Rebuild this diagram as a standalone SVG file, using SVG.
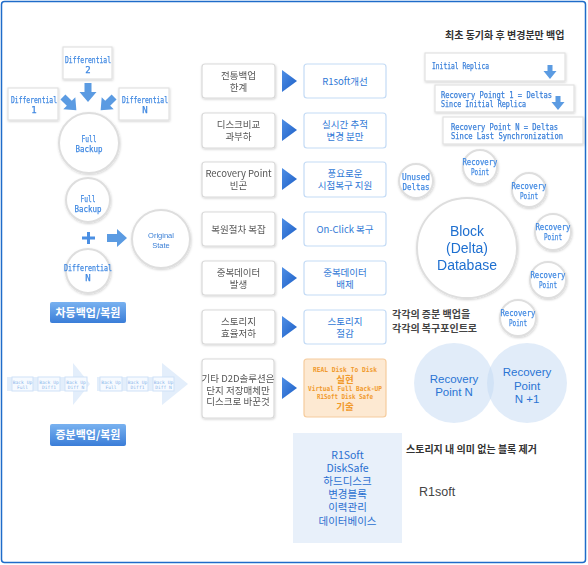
<svg xmlns="http://www.w3.org/2000/svg" width="588" height="565" viewBox="0 0 588 565">
<defs>
<style>
.px{font-family:"DejaVu Sans Mono",monospace;fill:#3f88e2;stroke:#3f88e2;stroke-width:0.25;font-size:9px}
.pxs{font-family:"DejaVu Sans Mono",monospace;fill:#3b80da;stroke:#3b80da;stroke-width:0.25;font-size:8.5px}
.kr{font-family:"Noto Sans CJK KR",sans-serif}
.lb{font-family:"Noto Sans CJK KR",sans-serif;font-size:9.5px;fill:#555;text-anchor:middle}
.rb{font-family:"Noto Sans CJK KR",sans-serif;font-size:9.5px;fill:#2f78d6;text-anchor:middle}
.box{fill:#fff;stroke:#d9d9d9;stroke-width:1.2}
.rbox{fill:#fff;stroke:#c4dbf5;stroke-width:1.2}
.wbox{fill:#fff;stroke:#e2e2e2;stroke-width:1.2}
.circ{fill:#fff;stroke:#dedede;stroke-width:2}
.tri{fill:url(#tg)}
.arr{fill:#5b9be2}
.btn{fill:url(#bg)}
.btxt{font-family:"Noto Sans CJK KR",sans-serif;font-size:11px;font-weight:bold;fill:#fff;text-anchor:middle}
.mid{text-anchor:middle}
.bu{font-family:"DejaVu Sans Mono",monospace;font-size:4.6px;fill:#8bb6ea;text-anchor:middle}
.sbox{fill:#f6faff;stroke:#cfe1f7;stroke-width:1}
.org{font-family:"DejaVu Sans Mono",monospace;font-weight:bold;font-size:7px;fill:#f19a2c;text-anchor:middle}
.orgk{font-family:"Noto Sans CJK KR",sans-serif;font-weight:bold;font-size:9.5px;fill:#f19a2c;text-anchor:middle}
.ven{font-family:"Liberation Sans",sans-serif;font-size:11.5px;fill:#2a74d4;text-anchor:middle}
.bot{font-family:"Noto Sans CJK KR",sans-serif;font-size:10.5px;fill:#2a6fd0;text-anchor:middle}
</style>
<linearGradient id="tg" x1="0" y1="0" x2="1" y2="1">
<stop offset="0" stop-color="#4f8fe6"/><stop offset="1" stop-color="#1d5fc6"/>
</linearGradient>
<linearGradient id="bg" x1="0" y1="0" x2="0" y2="1">
<stop offset="0" stop-color="#79b2f0"/><stop offset="1" stop-color="#3a7dd8"/>
</linearGradient>
<filter id="sh" x="-20%" y="-20%" width="140%" height="140%">
<feDropShadow dx="0.5" dy="1" stdDeviation="1" flood-color="#000" flood-opacity="0.18"/>
</filter>
<path id="darr" d="M-3.5,-10 h7 v9 h5 l-8.5,10 l-8.5,-10 h5 z"/>
<path id="sdarr" d="M-2.5,-8 h5 v6 h4 l-6.5,8 l-6.5,-8 h4 z"/>
</defs>

<rect x="1.5" y="1.5" width="584" height="561" rx="3" fill="#fff" stroke="#1f6cc9" stroke-width="1.5"/>

<!-- Left top cluster -->
<g id="diff2" filter="url(#sh)">
<rect class="wbox" x="63" y="47" width="49" height="32"/>
<text class="px mid" x="88" y="63" textLength="46" lengthAdjust="spacingAndGlyphs">Differential</text>
<text class="px mid" x="88" y="72.5">2</text>
</g>
<g id="diff1" filter="url(#sh)">
<rect class="wbox" x="8" y="88" width="50" height="32"/>
<text class="px mid" x="34" y="103" textLength="46" lengthAdjust="spacingAndGlyphs">Differential</text>
<text class="px mid" x="34" y="112.5">1</text>
</g>
<g id="diffN" filter="url(#sh)">
<rect class="wbox" x="119" y="88" width="50" height="32"/>
<text class="px mid" x="145" y="103" textLength="46" lengthAdjust="spacingAndGlyphs">Differential</text>
<text class="px mid" x="145" y="112.5">N</text>
</g>
<g id="fullbackup1" filter="url(#sh)">
<circle class="circ" cx="89" cy="143" r="30"/>
<text class="px mid" x="89" y="142" textLength="15" lengthAdjust="spacingAndGlyphs">Full</text>
<text class="px mid" x="89" y="152" textLength="27" lengthAdjust="spacingAndGlyphs">Backup</text>
</g>

<g id="fullbackup2" filter="url(#sh)">
<circle class="circ" cx="88" cy="200" r="22"/>
<text class="px mid" x="88" y="202" textLength="15" lengthAdjust="spacingAndGlyphs">Full</text>
<text class="px mid" x="88" y="212" textLength="27" lengthAdjust="spacingAndGlyphs">Backup</text>
</g>
<g id="plus">
<path d="M82,238 h13 M88.5,232 v12" stroke="#4b8fe3" stroke-width="3"/>
</g>
<g id="diffNcircle" filter="url(#sh)">
<circle class="circ" cx="88" cy="271" r="22"/>
<text class="px mid" x="88" y="271" textLength="48" lengthAdjust="spacingAndGlyphs">Differential</text>
<text class="px mid" x="88" y="280.5">N</text>
</g>
<g id="original" filter="url(#sh)">
<circle class="circ" cx="161" cy="239" r="29"/>
<text class="mid" x="161" y="237.5" font-family="Liberation Sans,sans-serif" font-size="7.5" fill="#3a7fd6">Original</text>
<text class="mid" x="161" y="248" font-family="Liberation Sans,sans-serif" font-size="7.5" fill="#3a7fd6">State</text>
</g>
<g id="btn1">
<rect class="btn" x="50" y="302" width="76" height="21" rx="2"/>
<text class="btxt" x="88" y="316.5">차등백업/복원</text>
</g>

<!-- incremental chain -->
<g id="chain">
<path d="M7,377 h66 v-14 l17,21 l-17,21 v-14 h-66 z" fill="#e3eefb"/>
<path d="M97,377 h65 v-14 l26,21 l-26,21 v-14 h-65 z" fill="#e3eefb"/>
<rect class="sbox" x="12" y="377" width="21" height="14"/>
<rect class="sbox" x="38" y="377" width="22" height="14"/>
<rect class="sbox" x="65" y="377" width="22" height="14"/>
<rect class="sbox" x="100" y="377" width="22" height="14"/>
<rect class="sbox" x="127" y="377" width="21" height="14"/>
<rect class="sbox" x="153" y="377" width="21" height="14"/>
<text class="bu" x="22.5" y="383.5">Back Up</text><text class="bu" x="22.5" y="388.5">Full</text>
<text class="bu" x="49" y="383.5">Back Up</text><text class="bu" x="49" y="388.5">Diff1</text>
<text class="bu" x="76" y="383.5">Back Up</text><text class="bu" x="76" y="388.5">Diff N</text>
<text class="bu" x="111" y="383.5">Back Up</text><text class="bu" x="111" y="388.5">Full</text>
<text class="bu" x="137.5" y="383.5">Back Up</text><text class="bu" x="137.5" y="388.5">Diff1</text>
<text class="bu" x="163.5" y="383.5">Back Up</text><text class="bu" x="163.5" y="388.5">Diff N</text>
</g>
<g id="btn2">
<rect class="btn" x="50" y="424" width="76" height="22" rx="2"/>
<text class="btxt" x="88" y="439">증분백업/복원</text>
</g>

<!-- middle column left -->
<g id="l1" filter="url(#sh)"><rect class="box" x="202" y="64" width="73" height="34" rx="3"/>
<text class="lb" x="238.5" y="79">전통백업</text><text class="lb" x="238.5" y="91">한계</text></g>
<g id="l2" filter="url(#sh)"><rect class="box" x="202" y="113" width="73" height="35" rx="3"/>
<text class="lb" x="238.5" y="128">디스크비교</text><text class="lb" x="238.5" y="140">과부하</text></g>
<g id="l3" filter="url(#sh)"><rect class="box" x="202" y="162" width="73" height="35" rx="3"/>
<text class="lb" x="238.5" y="177">Recovery Point</text><text class="lb" x="238.5" y="189">빈곤</text></g>
<g id="l4" filter="url(#sh)"><rect class="box" x="202" y="212" width="73" height="34" rx="3"/>
<text class="lb" x="238.5" y="232.5">복원절차 복잡</text></g>
<g id="l5" filter="url(#sh)"><rect class="box" x="202" y="261" width="73" height="34" rx="3"/>
<text class="lb" x="238.5" y="276">중복데이터</text><text class="lb" x="238.5" y="288">발생</text></g>
<g id="l6" filter="url(#sh)"><rect class="box" x="202" y="310" width="73" height="34" rx="3"/>
<text class="lb" x="238.5" y="325">스토리지</text><text class="lb" x="238.5" y="337">효율저하</text></g>
<g id="l7" filter="url(#sh)"><rect class="box" x="202" y="359" width="72" height="59" rx="3"/>
<text class="lb" x="238" y="382" fill="#444" font-size="10.5">기타 D2D솔루션은</text>
<text class="lb" x="238" y="393.5" fill="#444" font-size="10.5">단지 저장매체만</text>
<text class="lb" x="238" y="405" fill="#444" font-size="10.5">디스크로 바꾼것</text></g>

<!-- middle column right -->
<g id="r1"><rect class="rbox" x="304" y="64" width="82" height="34" rx="3"/>
<text class="rb" x="345" y="84.5">R1soft개선</text></g>
<g id="r2"><rect class="rbox" x="304" y="113" width="82" height="35" rx="3"/>
<text class="rb" x="345" y="128">실시간 추적</text><text class="rb" x="345" y="140">변경 분만</text></g>
<g id="r3"><rect class="rbox" x="304" y="162" width="82" height="35" rx="3"/>
<text class="rb" x="345" y="177">풍요로운</text><text class="rb" x="345" y="189">시점복구 지원</text></g>
<g id="r4"><rect class="rbox" x="304" y="212" width="82" height="34" rx="3"/>
<text class="rb" x="345" y="232.5">On-Click 복구</text></g>
<g id="r5"><rect class="rbox" x="304" y="261" width="82" height="34" rx="3"/>
<text class="rb" x="345" y="276">중복데이터</text><text class="rb" x="345" y="288">배제</text></g>
<g id="r6"><rect class="rbox" x="304" y="310" width="82" height="34" rx="3"/>
<text class="rb" x="345" y="325">스토리지</text><text class="rb" x="345" y="337">절감</text></g>
<g id="r7"><rect x="304" y="359" width="82" height="58" rx="3" fill="#fde9d2" stroke="#f6cc9d" stroke-width="1.2"/>
<text class="org" x="345" y="371.5" textLength="64" lengthAdjust="spacingAndGlyphs">REAL Disk To Disk</text>
<text class="orgk" x="345" y="382.5">실현</text>
<text class="org" x="345" y="390.5" textLength="74" lengthAdjust="spacingAndGlyphs">Virtual Full Back-UP</text>
<text class="org" x="345" y="398.5" textLength="56" lengthAdjust="spacingAndGlyphs">R1Soft Disk Safe</text>
<text class="orgk" x="345" y="409.5">기술</text></g>

<!-- right top -->
<text class="kr" x="445" y="39" font-size="10" font-weight="bold" fill="#333">최초 동기화 후 변경분만 백업</text>
<g id="rt1" filter="url(#sh)"><rect class="wbox" x="425" y="53" width="140" height="28"/>
<text class="pxs" x="432" y="68.5" textLength="57" lengthAdjust="spacingAndGlyphs">Initial Replica</text></g>
<g id="rt2" filter="url(#sh)"><rect class="wbox" x="435" y="85" width="139" height="27"/>
<text class="pxs" x="441" y="97.5" textLength="111" lengthAdjust="spacingAndGlyphs">Recovery Poingt 1 = Deltas</text>
<text class="pxs" x="441" y="106.5" textLength="85" lengthAdjust="spacingAndGlyphs">Since Initial Replica</text></g>
<g id="rt3" filter="url(#sh)"><rect class="wbox" x="443" y="117" width="140" height="27"/>
<text class="pxs" x="451" y="130" textLength="107" lengthAdjust="spacingAndGlyphs">Recovery Point N = Deltas</text>
<text class="pxs" x="451" y="139" textLength="112" lengthAdjust="spacingAndGlyphs">Since Last Synchronization</text></g>

<!-- right circles -->
<g id="unused" filter="url(#sh)"><circle class="circ" cx="416" cy="181" r="17"/>
<text class="px mid" x="416" y="180" textLength="28" lengthAdjust="spacingAndGlyphs">Unused</text>
<text class="px mid" x="416" y="190" textLength="27" lengthAdjust="spacingAndGlyphs">Deltas</text></g>
<g id="rp1" filter="url(#sh)"><circle class="circ" cx="480" cy="167" r="17"/>
<text class="px mid" x="480" y="165" textLength="35" lengthAdjust="spacingAndGlyphs">Recovery</text>
<text class="px mid" x="480" y="175" textLength="18" lengthAdjust="spacingAndGlyphs">Point</text></g>
<g id="rp2" filter="url(#sh)"><circle class="circ" cx="529" cy="190" r="17"/>
<text class="px mid" x="529" y="189" textLength="35" lengthAdjust="spacingAndGlyphs">Recovery</text>
<text class="px mid" x="529" y="199" textLength="18" lengthAdjust="spacingAndGlyphs">Point</text></g>
<g id="rp3" filter="url(#sh)"><circle class="circ" cx="553" cy="232" r="18"/>
<text class="px mid" x="553" y="230" textLength="35" lengthAdjust="spacingAndGlyphs">Recovery</text>
<text class="px mid" x="553" y="240" textLength="18" lengthAdjust="spacingAndGlyphs">Point</text></g>
<g id="rp4" filter="url(#sh)"><circle class="circ" cx="548" cy="280" r="18"/>
<text class="px mid" x="548" y="278" textLength="35" lengthAdjust="spacingAndGlyphs">Recovery</text>
<text class="px mid" x="548" y="288" textLength="18" lengthAdjust="spacingAndGlyphs">Point</text></g>
<g id="rp5" filter="url(#sh)"><circle class="circ" cx="518" cy="318" r="18"/>
<text class="px mid" x="518" y="316" textLength="35" lengthAdjust="spacingAndGlyphs">Recovery</text>
<text class="px mid" x="518" y="326" textLength="18" lengthAdjust="spacingAndGlyphs">Point</text></g>
<g id="blockdb" filter="url(#sh)"><circle class="circ" cx="467" cy="248" r="50"/>
<text class="mid" x="467" y="236" font-family="Liberation Sans,sans-serif" font-size="14" fill="#1f6fd0">Block</text>
<text class="mid" x="467" y="253" font-family="Liberation Sans,sans-serif" font-size="14" fill="#1f6fd0">(Delta)</text>
<text class="mid" x="467" y="269.5" font-family="Liberation Sans,sans-serif" font-size="14" fill="#1f6fd0">Database</text></g>
<text class="kr" x="392" y="318" font-size="10" font-weight="bold" fill="#444">각각의 증분 백업을</text>
<text class="kr" x="392" y="332" font-size="10" font-weight="bold" fill="#444">각각의 복구포인트로</text>

<!-- venn -->
<g id="rpN"><circle cx="454" cy="383" r="40" fill="#c4daf3" fill-opacity="0.5"/>
<text class="ven" x="454" y="383">Recovery</text>
<text class="ven" x="454" y="396">Point N</text></g>
<g id="rpN1"><circle cx="527" cy="383" r="40" fill="#c4daf3" fill-opacity="0.5"/>
<text class="ven" x="527" y="376">Recovery</text>
<text class="ven" x="527" y="389.5">Point</text>
<text class="ven" x="527" y="403">N +1</text></g>

<!-- bottom -->
<g id="r1softbox"><rect x="293" y="433" width="109" height="110" fill="#e8f0fa"/>
<text class="bot" x="347.5" y="459">R1Soft</text>
<text class="bot" x="347.5" y="472">DiskSafe</text>
<text class="bot" x="347.5" y="485">하드디스크</text>
<text class="bot" x="347.5" y="498">변경블록</text>
<text class="bot" x="347.5" y="511">이력관리</text>
<text class="bot" x="347.5" y="525">데이터베이스</text></g>
<text class="kr" x="406" y="453" font-size="10" font-weight="bold" fill="#333">스토리지 내 의미 없는 블록 제거</text>
<text x="419" y="496" font-family="Liberation Sans,sans-serif" font-size="12.5" fill="#444">R1soft</text>

<!-- connectors -->
<g id="connectors">
<use href="#darr" class="arr" x="88" y="93"/>
<use href="#darr" class="arr" transform="translate(70,104) rotate(-45)"/>
<use href="#darr" class="arr" transform="translate(107,104) rotate(45)"/>
<path class="arr" d="M107,234 h10 v-5 l10,9 l-10,9 v-5 h-10 z"/>
<use href="#sdarr" class="arr" x="550" y="73"/>
<use href="#sdarr" class="arr" x="558" y="104"/>
<polygon class="tri" points="282,70 297,81 282,92"/>
<polygon class="tri" points="282,119 297,130 282,141"/>
<polygon class="tri" points="282,168 297,179 282,190"/>
<polygon class="tri" points="282,218 297,229 282,240"/>
<polygon class="tri" points="282,267 297,278 282,289"/>
<polygon class="tri" points="282,316 297,327 282,338"/>
<polygon class="tri" points="282,377 297,388 282,399"/>
</g>
</svg>
